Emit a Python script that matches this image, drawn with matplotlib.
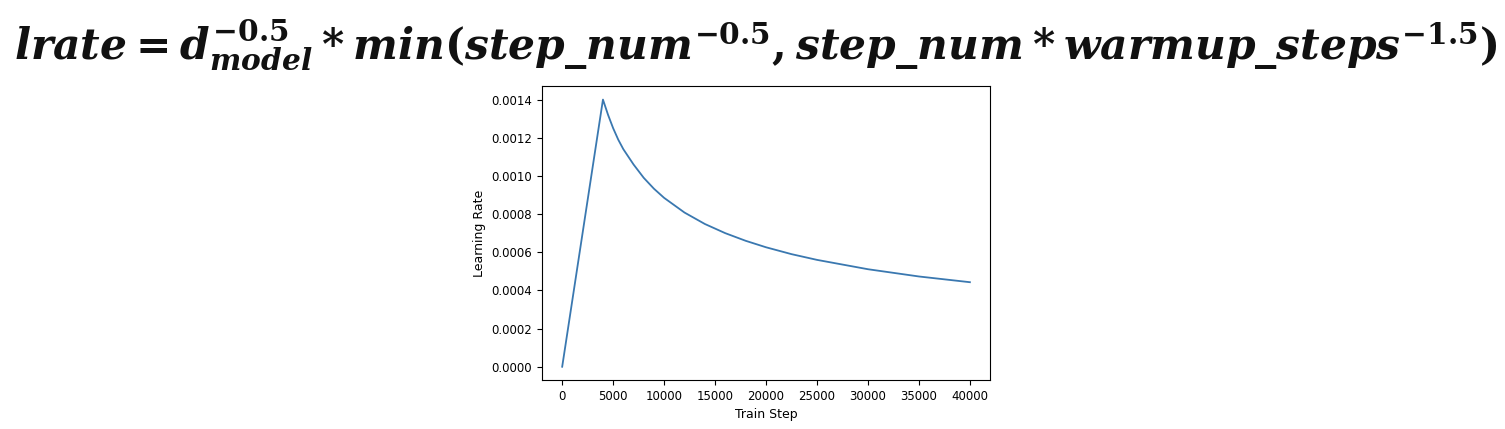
import matplotlib
matplotlib.use("Agg")
import matplotlib.pyplot as plt

plt.rcParams["mathtext.fontset"] = "custom"
plt.rcParams["mathtext.it"] = "DejaVu Serif:italic:bold"
plt.rcParams["mathtext.rm"] = "DejaVu Serif:bold"
plt.rcParams["mathtext.bf"] = "DejaVu Serif:bold"

# values
steps = [0, 1000, 2000, 3000, 4000, 4500, 5000, 5500, 6000, 6500, 7000, 8000, 9000,
         10000, 12000, 14000, 16000, 18000, 20000, 22500, 25000, 30000, 35000, 40000]
lrate = [0.0, 0.00035, 0.0007, 0.00105, 0.0014, 0.00132, 0.00125, 0.00119, 0.00114,
         0.0011, 0.00106, 0.00099, 0.000933, 0.000885, 0.000808, 0.000748, 0.0007,
         0.00066, 0.000626, 0.00059, 0.00056, 0.000511, 0.000473, 0.000443]

xticks = [0, 5000, 10000, 15000, 20000, 25000, 30000, 35000, 40000]
yticks = [0.0, 0.0002, 0.0004, 0.0006, 0.0008, 0.0010, 0.0012, 0.0014]

fig = plt.figure(figsize=(15.05, 4.29), dpi=100)
fig.patch.set_facecolor("white")

fig.text(0.502, 0.895,
         r"$lrate = d_{model}^{-0.5} * min(step\_num^{-0.5}, step\_num * warmup\_steps^{-1.5})$",
         ha="center", va="center", fontsize=30.5, color="#111111")

ax = fig.add_axes([0.360, 0.114, 0.298, 0.685])
ax.plot(steps, lrate, color="#3a78b0", linewidth=1.3)
ax.set_xticks(xticks)
ax.set_yticks(yticks)
ax.set_yticklabels([f"{v:.4f}" for v in yticks])
ax.tick_params(labelsize=8.5)
ax.set_xlabel("Train Step", fontsize=9)
ax.set_ylabel("Learning Rate", fontsize=9)
ax.set_xlim(-2000, 42000)
ax.set_ylim(-0.00007, 0.00147)

fig.savefig("out.png", dpi=100, facecolor="white")
